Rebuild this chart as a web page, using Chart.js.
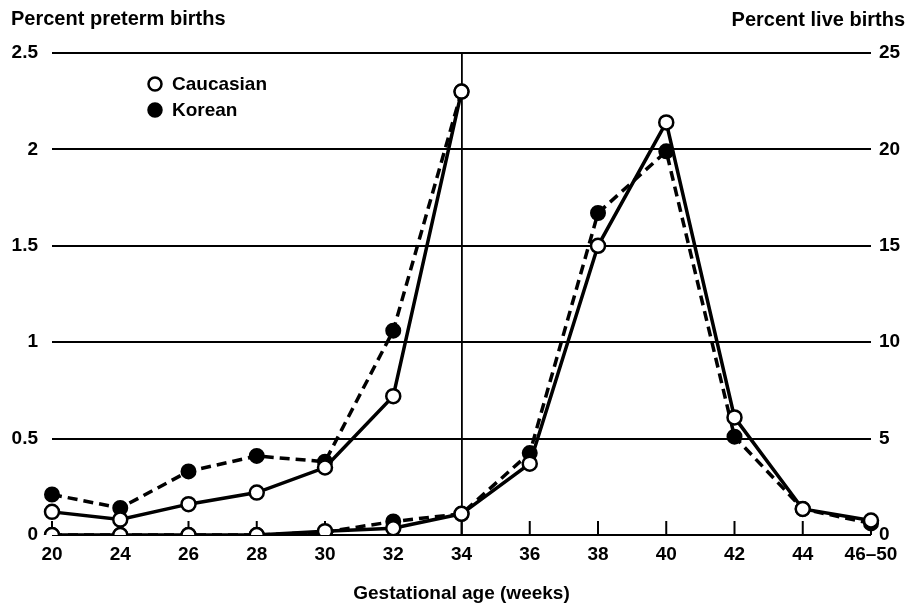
<!DOCTYPE html>
<html>
<head>
<meta charset="utf-8">
<script src="https://cdn.jsdelivr.net/npm/chart.js@4"></script>
<style>
  html, body { margin: 0; padding: 0; background: #fff; }
  #wrap { width: 910px; height: 605px; position: relative; }
</style>
</head>
<body>
<div id="wrap"><canvas id="chart"></canvas></div>
<script>
const weeks = ['20', '24', '26', '28', '30', '32', '34', '36', '38', '40', '42', '44', '46–50'];
const pretermCaucasian = [0.12, 0.08, 0.16, 0.22, 0.35, 0.72, 2.30, null, null, null, null, null, null];
const pretermKorean = [0.21, 0.14, 0.33, 0.41, 0.38, 1.06, 2.30, null, null, null, null, null, null];
const liveCaucasian = [0, 0, 0, 0, 0.2, 0.35, 1.1, 3.7, 15.0, 21.4, 6.1, 1.35, 0.75];
const liveKorean = [0, 0, 0, 0, 0.15, 0.7, 1.1, 4.25, 16.7, 19.9, 5.1, 1.35, 0.6];
const leftTicks = [0, 0.5, 1, 1.5, 2, 2.5];
const rightTicks = [0, 5, 10, 15, 20, 25];
const legendNames = ['Caucasian', 'Korean'];

const FONT = '"Liberation Sans", Arial, sans-serif';
const tickFont = { family: FONT, size: 19, weight: 'bold' };

// titles, legend, inner x ticks
const extras = {
  id: 'extras',
  beforeDatasetsDraw(chart) {
    const { ctx, chartArea, scales } = chart;
    ctx.save();
    ctx.strokeStyle = '#000';
    ctx.lineWidth = 2;
    weeks.forEach((w, i) => {
      const x = scales.x.getPixelForValue(i);
      ctx.beginPath();
      ctx.moveTo(x, chartArea.bottom);
      ctx.lineTo(x, chartArea.bottom - 14);
      ctx.stroke();
    });
    ctx.restore();
  },
  afterDraw(chart) {
    const { ctx } = chart;
    ctx.save();
    ctx.fillStyle = '#000';
    ctx.font = 'bold 20px ' + FONT;
    ctx.textBaseline = 'middle';
    ctx.textAlign = 'left';
    ctx.fillText('Percent preterm births', 11, 19);
    ctx.textAlign = 'right';
    ctx.fillText('Percent live births', 905, 20);

    // legend
    ctx.textAlign = 'left';
    ctx.font = 'bold 19px ' + FONT;
    legendNames.forEach((name, i) => {
      const y = 84 + i * 26;
      ctx.beginPath();
      ctx.arc(155, y, 6.5, 0, Math.PI * 2);
      ctx.lineWidth = 2.5;
      ctx.strokeStyle = '#000';
      ctx.fillStyle = i === 0 ? '#fff' : '#000';
      ctx.fill();
      ctx.stroke();
      ctx.fillStyle = '#000';
      ctx.fillText(name, 172, y + 1);
    });
    ctx.restore();
  }
};

const openPoint = { pointRadius: 7, pointBorderWidth: 2.5, pointBackgroundColor: '#fff', pointBorderColor: '#000' };
const filledPoint = { pointRadius: 7, pointBorderWidth: 2, pointBackgroundColor: '#000', pointBorderColor: '#000' };

new Chart(document.getElementById('chart'), {
  type: 'line',
  data: {
    labels: weeks,
    datasets: [
      { label: 'Caucasian', data: pretermCaucasian, yAxisID: 'y', borderColor: '#000', borderWidth: 3.5, ...openPoint },
      { label: 'Caucasian', data: liveCaucasian, yAxisID: 'y1', borderColor: '#000', borderWidth: 3.5, ...openPoint },
      { label: 'Korean', data: pretermKorean, yAxisID: 'y', borderColor: '#000', borderWidth: 3.5, borderDash: [10, 6], ...filledPoint },
      { label: 'Korean', data: liveKorean, yAxisID: 'y1', borderColor: '#000', borderWidth: 3.5, borderDash: [10, 6], ...filledPoint }
    ]
  },
  options: {
    responsive: true,
    maintainAspectRatio: false,
    animation: false,
    layout: { padding: { top: 53, left: 0, right: 0, bottom: 0 } },
    plugins: { legend: { display: false }, tooltip: { enabled: false } },
    scales: {
      x: {
        grid: {
          drawTicks: false,
          lineWidth: 1.8,
          color: ctx => (ctx.index === 6 ? '#000' : 'rgba(0,0,0,0)')
        },
        border: { display: false },
        ticks: { color: '#000', font: tickFont, padding: 8, maxRotation: 0, autoSkip: false },
        title: { display: true, text: 'Gestational age (weeks)', color: '#000', font: tickFont, padding: { top: 0, bottom: 0 } },
        afterFit(scale) { scale.height = 70; }
      },
      y: {
        position: 'left',
        min: 0,
        max: 2.5,
        afterBuildTicks(scale) { scale.ticks = leftTicks.map(v => ({ value: v })); },
        grid: { drawTicks: false, color: '#000', lineWidth: 2 },
        border: { display: false },
        ticks: { color: '#000', font: tickFont, padding: 14, callback: v => String(v) },
        afterFit(scale) { scale.width = 52; }
      },
      y1: {
        position: 'right',
        min: 0,
        max: 25,
        afterBuildTicks(scale) { scale.ticks = rightTicks.map(v => ({ value: v })); },
        grid: { display: false, drawTicks: false },
        border: { display: false },
        ticks: { color: '#000', font: tickFont, padding: 8, callback: v => String(v) },
        afterFit(scale) { scale.width = 39; }
      }
    }
  },
  plugins: [extras]
});
</script>
</body>
</html>
